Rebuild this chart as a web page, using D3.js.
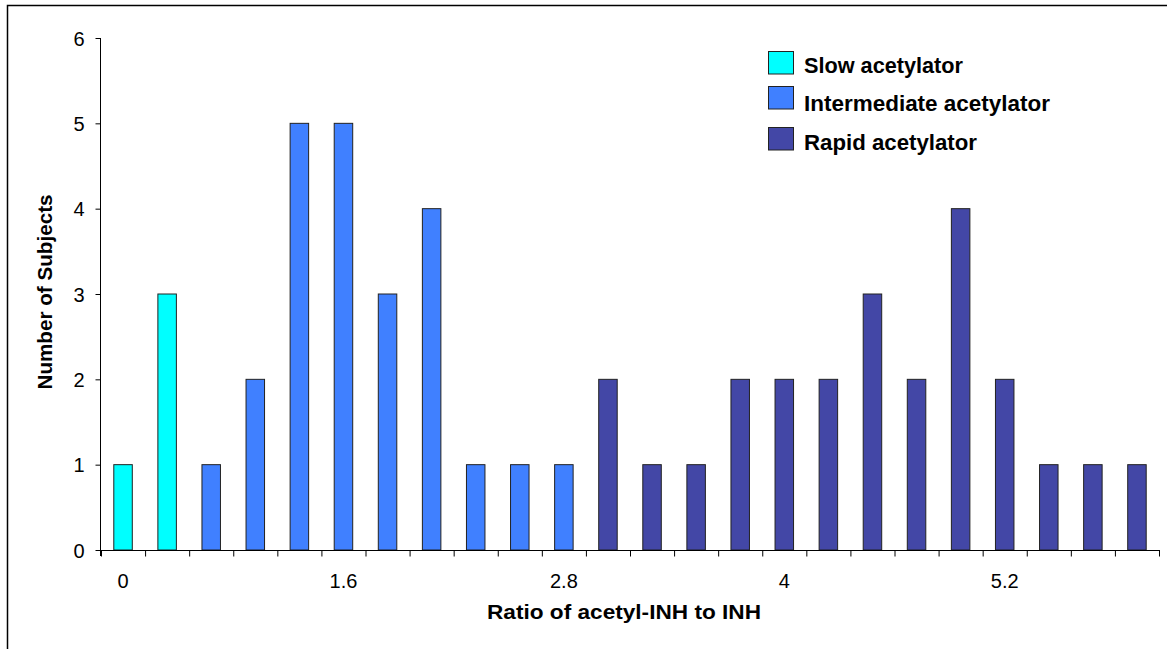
<!DOCTYPE html>
<html>
<head>
<meta charset="utf-8">
<script src="https://cdn.jsdelivr.net/npm/d3@7/dist/d3.min.js"></script>
<style>
  html, body { margin: 0; padding: 0; background: #fff; }
  svg { display: block; }
  text { font-family: "Liberation Sans", Arial, sans-serif; fill: #000; }
</style>
</head>
<body>
<svg id="chart" width="1167" height="649"></svg>
<script>
// Histogram of acetyl-INH / INH ratio, coloured by acetylator phenotype
const binLabels = ["0", "", "", "", "", "1.6", "", "", "", "", "2.8", "", "", "", "", "4",
                   "", "", "", "", "5.2", "", "", ""];
const slowCounts = [1, 3];
const intermediateCounts = [1, 2, 5, 5, 3, 4, 1, 1, 1];
const rapidCounts = [2, 1, 1, 2, 2, 2, 3, 2, 4, 2, 1, 1, 1];
const groupNames = ["Slow acetylator", "Intermediate  acetylator", "Rapid  acetylator"];
const groupColors = ["#00ffff", "#4080ff", "#4347a6"];
const yTicks = [0, 1, 2, 3, 4, 5, 6];

const bars = [];
[slowCounts, intermediateCounts, rapidCounts].forEach((arr, g) => {
  arr.forEach(v => bars.push({ idx: bars.length, value: v, group: g }));
});

const svg = d3.select("#chart");

// outer frame
svg.append("rect")
  .attr("x", 7.5).attr("y", 5.5)
  .attr("width", 1200).attr("height", 700)
  .attr("fill", "none").attr("stroke", "#000").attr("stroke-width", 1.5);

const x = d3.scaleBand().domain(d3.range(binLabels.length)).range([101, 1159]);
const y = d3.scaleLinear().domain([0, 6]).range([550, 38]);

// bars
const barW = 18.5;
svg.append("g").selectAll("rect").data(bars).join("rect")
  .attr("x", d => x(d.idx) + (x.bandwidth() - barW) / 2)
  .attr("y", d => y(d.value))
  .attr("width", barW)
  .attr("height", d => y(0) - y(d.value))
  .attr("fill", d => groupColors[d.group])
  .attr("stroke", "#222")
  .attr("stroke-width", 1);

// y axis
const yAxis = svg.append("g").attr("transform", "translate(100.5,0)")
  .call(d3.axisLeft(y).tickValues(yTicks).tickFormat(d3.format("d")).tickSize(5).tickPadding(11));
yAxis.select(".domain").attr("d", `M0,${y(6)}V556`).attr("stroke", "#000");
yAxis.selectAll("text").attr("font-size", null).style("font-size", "20px").attr("dy", "0.35em");

// x axis with ticks at bin boundaries
const xg = svg.append("g").attr("transform", "translate(0,550.5)");
xg.append("line").attr("x1", 100).attr("x2", 1160).attr("stroke", "#000");
xg.selectAll("line.tk").data(d3.range(binLabels.length + 1)).join("line")
  .attr("class", "tk")
  .attr("x1", i => (i < binLabels.length ? x(i) : x.range()[1]) + 0.5)
  .attr("x2", i => (i < binLabels.length ? x(i) : x.range()[1]) + 0.5)
  .attr("y1", 0).attr("y2", 6).attr("stroke", "#000");
xg.selectAll("text").data(binLabels.map((t, i) => ({ t, i })).filter(d => d.t)).join("text")
  .attr("x", d => x(d.i) + x.bandwidth() / 2)
  .attr("y", 37)
  .attr("text-anchor", "middle")
  .style("font-size", "20px")
  .text(d => d.t);

// axis titles
svg.append("text")
  .attr("x", 624).attr("y", 619)
  .attr("text-anchor", "middle")
  .attr("textLength", 274).attr("lengthAdjust", "spacingAndGlyphs")
  .style("font-size", "20px").style("font-weight", "bold")
  .text("Ratio of acetyl-INH to INH");

svg.append("text")
  .attr("transform", "translate(52,292) rotate(-90)")
  .attr("text-anchor", "middle")
  .attr("textLength", 195).attr("lengthAdjust", "spacingAndGlyphs")
  .style("font-size", "20px").style("font-weight", "bold")
  .text("Number of Subjects");

// legend
const legendRows = [
  { top: 51, base: 73, w: 159 },
  { top: 86, base: 110.5, w: 246 },
  { top: 127, base: 149.5, w: 173 }
];
const lg = svg.append("g");
legendRows.forEach((r, i) => {
  lg.append("rect")
    .attr("x", 768.5).attr("y", r.top + 0.5)
    .attr("width", 25).attr("height", 22.5)
    .attr("fill", groupColors[i]).attr("stroke", "#222").attr("stroke-width", 1);
  lg.append("text")
    .attr("x", 804).attr("y", r.base)
    .attr("textLength", r.w).attr("lengthAdjust", "spacingAndGlyphs")
    .style("font-size", "22px").style("font-weight", "bold")
    .text(groupNames[i]);
});
</script>
</body>
</html>
